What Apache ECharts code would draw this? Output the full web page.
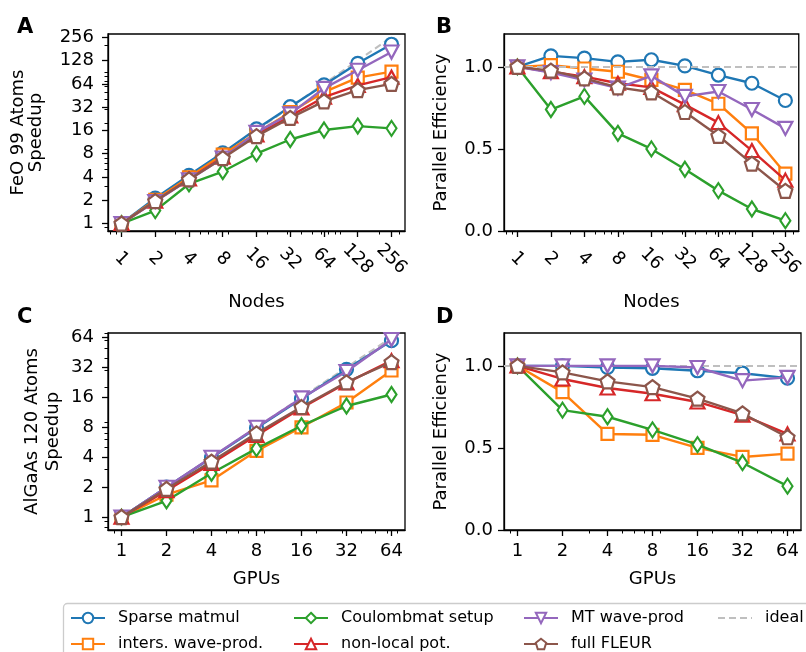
<!DOCTYPE html>
<html>
<head>
<meta charset="utf-8">
<script src="https://cdn.jsdelivr.net/npm/echarts@6/dist/echarts.min.js"></script>
<style>
  html, body { margin: 0; padding: 0; background: #fff; }
  #chart { width: 806px; height: 652px; }
</style>
</head>
<body>
<div id="chart"></div>
<script>
// x positions
const nodes = [1, 2, 4, 8, 16, 32, 64, 128, 256];
const gpus = [1, 2, 4, 8, 16, 32, 64];

const seriesNames = ["Sparse matmul", "inters. wave-prod.", "Coulombmat setup", "non-local pot.", "MT wave-prod", "full FLEUR"];
const colors = ["#1f77b4", "#ff7f0e", "#2ca02c", "#d62728", "#9467bd", "#8c564b"];

// A: FeO 99 atoms, speedup vs nodes
const feoSpeedup = [
  [1, 2.13, 4.2, 8.2, 16.7, 32.4, 62, 118, 208],
  [1, 2.02, 3.96, 7.8, 14.8, 27.5, 50, 77, 92],
  [1, 1.47, 3.25, 4.7, 8.0, 12.2, 16.2, 18.2, 17.0],
  [1, 1.94, 3.76, 7.2, 14.0, 24.6, 43, 61, 78],
  [1, 1.93, 3.68, 7.0, 15.1, 26.2, 56, 96, 165],
  [1, 1.95, 3.72, 7.0, 13.5, 23.2, 38, 53, 64]
];
const feoIdeal = [1, 2, 4, 8, 16, 32, 64, 128, 256];

// B: FeO 99 atoms, parallel efficiency vs nodes
const feoEff = [
  [1.0, 1.067, 1.053, 1.03, 1.043, 1.006, 0.95, 0.90, 0.795],
  [1.0, 1.01, 0.99, 0.97, 0.92, 0.86, 0.775, 0.595, 0.35],
  [1.0, 0.74, 0.82, 0.595, 0.50, 0.376, 0.246, 0.134, 0.063],
  [1.0, 0.97, 0.94, 0.90, 0.875, 0.77, 0.66, 0.49, 0.31],
  [1.0, 0.965, 0.92, 0.87, 0.945, 0.82, 0.85, 0.74, 0.625],
  [1.0, 0.977, 0.93, 0.875, 0.845, 0.725, 0.58, 0.41, 0.245]
];

// C: AlGaAs 120 atoms, speedup vs GPUs
const algaasSpeedup = [
  [1, 2.0, 3.96, 7.88, 15.5, 30.6, 59.5],
  [1, 1.68, 2.34, 4.64, 8.0, 14.2, 29.8],
  [1, 1.46, 2.76, 4.88, 8.3, 13.1, 17.1],
  [1, 1.84, 3.46, 6.64, 12.5, 22.4, 37.4],
  [1, 2.0, 4.0, 8.0, 15.8, 29.1, 61],
  [1, 1.92, 3.62, 6.96, 12.8, 22.7, 36.2]
];
const algaasIdeal = [1, 2, 4, 8, 16, 32, 64];

// D: AlGaAs 120 atoms, parallel efficiency vs GPUs
const algaasEff = [
  [1.0, 1.0, 0.99, 0.985, 0.97, 0.955, 0.925],
  [1.0, 0.84, 0.585, 0.58, 0.50, 0.445, 0.465],
  [1.0, 0.73, 0.69, 0.61, 0.52, 0.41, 0.267],
  [1.0, 0.92, 0.865, 0.83, 0.78, 0.70, 0.585],
  [1.0, 1.0, 1.0, 1.0, 0.99, 0.91, 0.93],
  [1.0, 0.96, 0.905, 0.87, 0.80, 0.71, 0.565]
];

// tick labels
const nodeTicks = [1, 2, 4, 8, 16, 32, 64, 128, 256];
const gpuTicks = [1, 2, 4, 8, 16, 32, 64];
const effTicks = [0, 0.5, 1.0];
const minorTicksLog = [0.8, 0.9, 3, 5, 6, 7, 9, 20, 30, 40, 50, 60, 70, 80, 90, 200, 300];

const symbols = [
  "circle",
  "rect",
  "diamond",
  "triangle",
  "path://M0,0L10,0L5,8.66Z",
  "path://M5,0L9.76,3.45L7.94,9.05L2.06,9.05L0.24,3.45Z"
];
const symbolSizes = [13, 12, [10, 15], [14, 13], [14, 13], 14];

const FONT = "DejaVu Sans";
const idealColor = "#bfbfbf";

const grids = [
  { left: 108, top: 34, width: 297, height: 197 },
  { left: 504, top: 34, width: 297, height: 197 },
  { left: 108, top: 333, width: 297, height: 197 },
  { left: 504, top: 333, width: 297, height: 197 }
].map(g => Object.assign(g, { show: true, borderColor: "#000", borderWidth: 1.3, backgroundColor: "#fff" }));

const xMin = [Math.pow(2, -0.4), Math.pow(2, -0.4), Math.pow(2, -0.3), Math.pow(2, -0.3)];
const xMax = [Math.pow(2, 8.4), Math.pow(2, 8.4), Math.pow(2, 6.3), Math.pow(2, 6.3)];

function xAxes(i, ticks, name, rotated) {
  const major = {
    type: "log", logBase: 2, gridIndex: i, position: "bottom",
    min: xMin[i], max: xMax[i],
    name: name, nameLocation: "middle", nameGap: rotated ? 62 : 40,
    nameTextStyle: { fontSize: 18, color: "#000", fontFamily: FONT },
    axisLine: { show: true, onZero: false, lineStyle: { color: "#000", width: 1.3 } },
    axisTick: { show: true, length: 6, lineStyle: { color: "#000", width: 1.3 }, customValues: ticks },
    axisLabel: {
      customValues: ticks, fontSize: 18, color: "#000", fontFamily: FONT,
      formatter: v => String(Math.round(v)),
      rotate: rotated ? -45 : 0,
      align: "center", verticalAlign: rotated ? "middle" : "top",
      margin: rotated ? 28 : 12
    },
    splitLine: { show: false }
  };
  const minor = {
    type: "log", logBase: 2, gridIndex: i, position: "bottom",
    min: xMin[i], max: xMax[i],
    axisLine: { show: false },
    axisTick: { show: true, length: 3.5, lineStyle: { color: "#000", width: 1 }, customValues: minorTicksLog },
    axisLabel: { show: false },
    splitLine: { show: false }
  };
  return [major, minor];
}

function yLogAxes(i, min, max, ticks, name, gap, lh) {
  const major = {
    type: "log", logBase: 2, gridIndex: i, position: "left",
    min: min, max: max,
    name: name, nameLocation: "middle", nameGap: gap,
    nameTextStyle: { fontSize: 18, color: "#000", fontFamily: FONT, lineHeight: lh },
    axisLine: { show: true, lineStyle: { color: "#000", width: 1.3 } },
    axisTick: { show: true, length: 6, lineStyle: { color: "#000", width: 1.3 }, customValues: ticks },
    axisLabel: { customValues: ticks, fontSize: 18, color: "#000", fontFamily: FONT, margin: 14,
      formatter: v => String(Math.round(v)) },
    splitLine: { show: false }
  };
  const minor = {
    type: "log", logBase: 2, gridIndex: i, position: "left",
    min: min, max: max,
    axisLine: { show: false },
    axisTick: { show: true, length: 3.5, lineStyle: { color: "#000", width: 1 }, customValues: minorTicksLog },
    axisLabel: { show: false },
    splitLine: { show: false }
  };
  return [major, minor];
}

function yEffAxes(i) {
  const major = {
    type: "value", gridIndex: i, position: "left",
    min: 0, max: 1.2,
    name: "Parallel Efficiency", nameLocation: "middle", nameGap: 54,
    nameTextStyle: { fontSize: 18, color: "#000", fontFamily: FONT },
    axisLine: { show: true, onZero: false, lineStyle: { color: "#000", width: 1.3 } },
    axisTick: { show: true, length: 6, lineStyle: { color: "#000", width: 1.3 }, customValues: effTicks },
    axisLabel: { customValues: effTicks, fontSize: 18, color: "#000", fontFamily: FONT, margin: 11,
      formatter: v => v.toFixed(1) },
    splitLine: { show: false }
  };
  const dummy = {
    type: "value", gridIndex: i, position: "left", min: 0, max: 1.2,
    axisLine: { show: false }, axisTick: { show: false }, axisLabel: { show: false }, splitLine: { show: false }
  };
  return [major, dummy];
}

const xAxis = [].concat(
  xAxes(0, nodeTicks, "Nodes", true),
  xAxes(1, nodeTicks, "Nodes", true),
  xAxes(2, gpuTicks, "GPUs", false),
  xAxes(3, gpuTicks, "GPUs", false)
);
const yAxis = [].concat(
  yLogAxes(0, Math.pow(2, -0.32), Math.pow(2, 8.14), nodeTicks, "FeO 99 Atoms\nSpeedup", 63, 18),
  yEffAxes(1),
  yLogAxes(2, Math.pow(2, -0.43), Math.pow(2, 6.15), gpuTicks, "AlGaAs 120 Atoms\nSpeedup", 44, 21),
  yEffAxes(3)
);

const idealStyle = { color: idealColor, width: 2, type: [7, 4] };
const series = [];
function idealLine(panel, xs, ys) {
  series.push({
    type: "line", name: "ideal", xAxisIndex: panel * 2, yAxisIndex: panel * 2,
    data: xs.map((x, k) => [x, ys[k]]),
    symbol: "none", z: 1, silent: true,
    itemStyle: { color: idealColor },
    lineStyle: idealStyle
  });
}
function idealFlat(panel) {
  series.push({
    type: "line", name: "ideal", xAxisIndex: panel * 2, yAxisIndex: panel * 2,
    data: [], symbol: "none", z: 1, silent: true,
    itemStyle: { color: idealColor },
    lineStyle: idealStyle,
    markLine: {
      silent: true, symbol: "none", label: { show: false },
      lineStyle: idealStyle,
      data: [{ yAxis: 1 }], animation: false
    }
  });
}
function addPanel(panel, xs, table) {
  table.forEach((vals, s) => {
    series.push({
      type: "line", name: seriesNames[s],
      xAxisIndex: panel * 2, yAxisIndex: panel * 2,
      data: xs.map((x, k) => [x, vals[k]]),
      symbol: symbols[s], symbolSize: symbolSizes[s], showAllSymbol: true,
      z: 2 + s,
      lineStyle: { color: colors[s], width: 2.4 },
      itemStyle: { color: "#fff", borderColor: colors[s], borderWidth: 2.2 },
      emphasis: { disabled: true }
    });
  });
}

idealLine(0, nodes, feoIdeal);
addPanel(0, nodes, feoSpeedup);
idealFlat(1);
addPanel(1, nodes, feoEff);
idealLine(2, gpus, algaasIdeal);
addPanel(2, gpus, algaasSpeedup);
idealFlat(3);
addPanel(3, gpus, algaasEff);

const legendBase = {
  orient: "vertical", top: 610, height: 80, itemWidth: 34, itemHeight: 13, itemGap: 10, padding: 0,
  textStyle: { fontSize: 16, color: "#000", fontFamily: FONT, padding: [0, 0, 0, 8] },
  selectedMode: false
};
const legend = [
  Object.assign({}, legendBase, { left: 70, data: ["Sparse matmul", "inters. wave-prod."] }),
  Object.assign({}, legendBase, { left: 293, data: ["Coulombmat setup", "non-local pot."] }),
  Object.assign({}, legendBase, { left: 523, data: ["MT wave-prod", "full FLEUR"] }),
  Object.assign({}, legendBase, { left: 717, data: [{ name: "ideal", itemStyle: { opacity: 0 } }] })
];

const letterStyle = { fontSize: 21, fontWeight: "bold", color: "#000", fontFamily: FONT };
const title = [
  { text: "A", left: 12, top: 12, textStyle: letterStyle },
  { text: "B", left: 431, top: 12, textStyle: letterStyle },
  { text: "C", left: 12, top: 302, textStyle: letterStyle },
  { text: "D", left: 431, top: 302, textStyle: letterStyle }
];

const chart = echarts.init(document.getElementById("chart"), null, { renderer: "canvas" });
chart.setOption({
  backgroundColor: "#fff",
  animation: false,
  textStyle: { fontFamily: FONT },
  title: title,
  legend: legend,
  grid: grids,
  xAxis: xAxis,
  yAxis: yAxis,
  series: series,
  graphic: [{
    type: "rect", z: -1, silent: true,
    shape: { x: 63.5, y: 603.5, width: 800, height: 100, r: 4 },
    style: { fill: "#fff", stroke: "#cccccc", lineWidth: 1.3 }
  }]
});
</script>
</body>
</html>
